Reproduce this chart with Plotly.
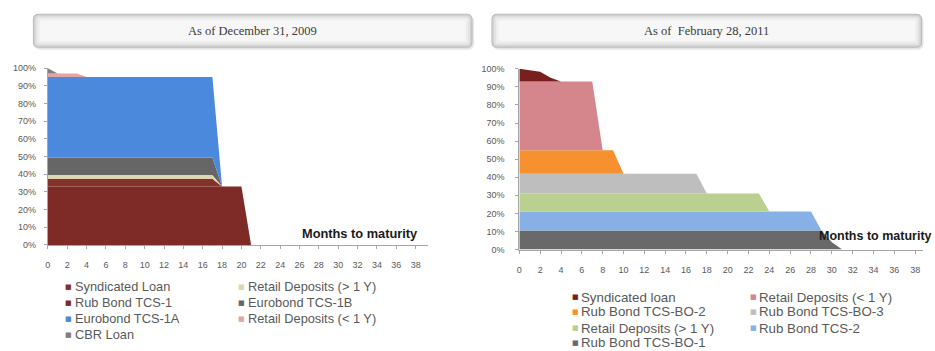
import plotly.graph_objects as go

W, H = 935, 351

# Months to maturity (category axis)
MONTHS = list(range(40))
X_TICKS = [0, 2, 4, 6, 8, 10, 12, 14, 16, 18, 20, 22, 24, 26, 28, 30, 32, 34, 36, 38]
Y_TICKS = [0, 10, 20, 30, 40, 50, 60, 70, 80, 90, 100]
Y_TICK_LABELS = ["0%", "10%", "20%", "30%", "40%", "50%", "60%", "70%", "80%", "90%", "100%"]

# ---- As of December 31, 2009: share of funding outstanding, % (bottom to top of stack)
L_RUB_BOND_TCS1 = [33, 33, 33, 33, 33, 33, 33, 33, 33, 33,
                   33, 33, 33, 33, 33, 33, 33, 33, 33, 33,
                   33, 0]
L_SYNDICATED = [4.5, 4.5, 4.5, 4.5, 4.5, 4.5, 4.5, 4.5, 4.5, 4.5,
                4.5, 4.5, 4.5, 4.5, 4.5, 4.5, 4.5, 4.5, 0]
L_RETAIL_GT1 = [2, 2, 2, 2, 2, 2, 2, 2, 2, 2,
                2, 2, 2, 2, 2, 2, 2, 2, 0]
L_EUROBOND_1B = [10, 10, 10, 10, 10, 10, 10, 10, 10, 10,
                 10, 10, 10, 10, 10, 10, 10, 10, 0]
L_EUROBOND_1A = [45.5, 45.5, 45.5, 45.5, 45.5, 45.5, 45.5, 45.5, 45.5, 45.5,
                 45.5, 45.5, 45.5, 45.5, 45.5, 45.5, 45.5, 45.5, 0]
L_RETAIL_LT1 = [2, 2, 2, 2, 0]
L_CBR = [3, 0]

# ---- As of February 28, 2011 (bottom to top of stack)
R_BO1 = [10.5, 10.5, 10.5, 10.5, 10.5, 10.5, 10.5, 10.5, 10.5, 10.5,
         10.5, 10.5, 10.5, 10.5, 10.5, 10.5, 10.5, 10.5, 10.5, 10.5,
         10.5, 10.5, 10.5, 10.5, 10.5, 10.5, 10.5, 10.5, 10.5, 10.5,
         4, 0]
R_TCS2 = [10.5, 10.5, 10.5, 10.5, 10.5, 10.5, 10.5, 10.5, 10.5, 10.5,
          10.5, 10.5, 10.5, 10.5, 10.5, 10.5, 10.5, 10.5, 10.5, 10.5,
          10.5, 10.5, 10.5, 10.5, 10.5, 10.5, 10.5, 10.5, 10.5, 0]
R_RETAIL_GT1 = [10, 10, 10, 10, 10, 10, 10, 10, 10, 10,
                10, 10, 10, 10, 10, 10, 10, 10, 10, 10,
                10, 10, 10, 10, 0]
R_BO3 = [11, 11, 11, 11, 11, 11, 11, 11, 11, 11,
         11, 11, 11, 11, 11, 11, 11, 11, 0]
R_BO2 = [13, 13, 13, 13, 13, 13, 13, 13, 13, 13, 0]
R_RETAIL_LT1 = [38, 38, 38, 38, 38, 38, 38, 38, 0]
R_SYNDICATED = [7, 6.2, 5.4, 2, 0]

LEFT_SERIES = [
    ("Rub Bond TCS-1", L_RUB_BOND_TCS1, "#7E2B27"),
    ("Syndicated Loan", L_SYNDICATED, "#84302B"),
    ("Retail Deposits (> 1 Y)", L_RETAIL_GT1, "#DDD6B0"),
    ("Eurobond TCS-1B", L_EUROBOND_1B, "#666666"),
    ("Eurobond TCS-1A", L_EUROBOND_1A, "#4A89DC"),
    ("Retail Deposits (< 1 Y)", L_RETAIL_LT1, "#E3A5A4"),
    ("CBR Loan", L_CBR, "#7F7F7F"),
]
RIGHT_SERIES = [
    ("Rub Bond TCS-BO-1", R_BO1, "#696969"),
    ("Rub Bond TCS-2", R_TCS2, "#86B0E6"),
    ("Retail Deposits (> 1 Y)", R_RETAIL_GT1, "#B9D08F"),
    ("Rub Bond TCS-BO-3", R_BO3, "#BEBEBE"),
    ("Rub Bond TCS-BO-2", R_BO2, "#F7912F"),
    ("Retail Deposits (< 1 Y)", R_RETAIL_LT1, "#D4868C"),
    ("Syndicated loan", R_SYNDICATED, "#7A1F20"),
]

LEFT_LEGEND_ROWS = [
    ("Syndicated Loan", "Retail Deposits (> 1 Y)"),
    ("Rub Bond TCS-1", "Eurobond TCS-1B"),
    ("Eurobond TCS-1A", "Retail Deposits (< 1 Y)"),
    ("CBR Loan", None),
]
RIGHT_LEGEND_ROWS = [
    ("Syndicated loan", "Retail Deposits (< 1 Y)"),
    ("Rub Bond TCS-BO-2", "Rub Bond TCS-BO-3"),
    ("Retail Deposits (> 1 Y)", "Rub Bond TCS-2"),
    ("Rub Bond TCS-BO-1", None),
]


def X(px):
    return px / W


def Y(py):
    return 1 - py / H


fig = go.Figure()

for name, vals, color in LEFT_SERIES:
    fig.add_trace(go.Scatter(
        x=MONTHS[:len(vals)], y=vals, name=name, stackgroup="left",
        mode="none", fillcolor=color, xaxis="x", yaxis="y", showlegend=False))

for name, vals, color in RIGHT_SERIES:
    fig.add_trace(go.Scatter(
        x=MONTHS[:len(vals)], y=vals, name=name, stackgroup="right",
        mode="none", fillcolor=color, xaxis="x2", yaxis="y2", showlegend=False))

tick_font = dict(family="Liberation Sans, Arial, sans-serif", size=9, color="#595959")
AX = "#A6A6A6"

# panel geometry (pixels)
L_X0, L_STEP, L_TOP, L_BOT = 45, 9.71, 65, 247
R_X0, R_STEP, R_TOP, R_BOT = 518, 10.45, 65.7, 251.7
L_XMAX, R_XMAX = 39.3, 38.8


def xaxis(x0, step, xmax, anchor, standoff):
    return dict(domain=[X(x0), X(x0 + step * xmax)], range=[0, xmax], anchor=anchor,
                tickmode="array", tickvals=X_TICKS, ticktext=[str(t) for t in X_TICKS],
                showgrid=False, zeroline=False, showline=True, linecolor=AX, linewidth=1,
                ticks="outside", ticklen=3, tickcolor=AX, tickfont=tick_font,
                ticklabelstandoff=standoff, fixedrange=True)


def yaxis(top, bot, anchor, standoff):
    return dict(domain=[Y(bot), Y(top)], range=[0, 100], anchor=anchor,
                tickmode="array", tickvals=Y_TICKS, ticktext=Y_TICK_LABELS,
                showgrid=False, zeroline=False, showline=True, linecolor=AX, linewidth=1,
                ticks="outside", ticklen=3, tickcolor=AX, tickfont=tick_font,
                ticklabelstandoff=standoff, fixedrange=True)


def rrect(x0, y0, x1, y1, r):
    return (f"M {X(x0 + r)},{Y(y0)} L {X(x1 - r)},{Y(y0)} Q {X(x1)},{Y(y0)} {X(x1)},{Y(y0 + r)} "
            f"L {X(x1)},{Y(y1 - r)} Q {X(x1)},{Y(y1)} {X(x1 - r)},{Y(y1)} "
            f"L {X(x0 + r)},{Y(y1)} Q {X(x0)},{Y(y1)} {X(x0)},{Y(y1 - r)} "
            f"L {X(x0)},{Y(y0 + r)} Q {X(x0)},{Y(y0)} {X(x0 + r)},{Y(y0)} Z")


shapes = []
annotations = []

# title banners
for (bx0, bx1, title) in [(30, 471, "As of December 31, 2009"), (490, 922, "As of  February 28, 2011")]:
    by0, by1 = 9, 44
    shapes.append(dict(type="path", path=rrect(bx0 + 1.5, by0 + 2, bx1 + 1.5, by1 + 2, 6),
                       xref="paper", yref="paper", fillcolor="rgba(0,0,0,0.10)", line_width=0))
    for inset, col in [(0, "#BCBCBC"), (1, "#D2D2D2"), (2.5, "#E2E2E2"), (4.5, "#EEEEEE"), (7, "#F7F7F7")]:
        shapes.append(dict(type="path",
                           path=rrect(bx0 + inset, by0 + inset, bx1 - inset, by1 - inset, max(6 - inset, 1)),
                           xref="paper", yref="paper", fillcolor=col, line_width=0))
    annotations.append(dict(text=title, x=X((bx0 + bx1) / 2), y=Y(27), xref="paper", yref="paper",
                            xanchor="center", yanchor="middle", showarrow=False,
                            font=dict(family="Liberation Serif, Times New Roman, serif", size=12.5,
                                      color="#3A3A3A")))

# axis captions
annotations.append(dict(text="<b>Months to maturity</b>", x=X(358), y=Y(235), xref="paper", yref="paper",
                        xanchor="center", yanchor="middle", showarrow=False,
                        font=dict(family="Liberation Sans, Arial, sans-serif", size=12.8, color="#1A1A1A")))
annotations.append(dict(text="<b>Months to maturity</b>", x=X(934), y=Y(238), xref="paper", yref="paper",
                        xanchor="right", yanchor="middle", showarrow=False,
                        font=dict(family="Liberation Sans, Arial, sans-serif", size=12.5, color="#1A1A1A")))


def add_legend(rows, colors, col_marker_x, col_text_x, row_y, size):
    leg_font = dict(family="Liberation Sans, Arial, sans-serif", size=size, color="#595959")
    for r, pair in enumerate(rows):
        for c, name in enumerate(pair):
            if name is None:
                continue
            annotations.append(dict(text="■", x=X(col_marker_x[c]), y=Y(row_y[r]), xref="paper", yref="paper",
                                    xanchor="center", yanchor="middle", showarrow=False,
                                    font=dict(family="DejaVu Sans", size=7, color=colors[name])))
            annotations.append(dict(text=name, x=X(col_text_x[c]), y=Y(row_y[r]), xref="paper", yref="paper",
                                    xanchor="left", yanchor="middle", showarrow=False, font=leg_font))


add_legend(LEFT_LEGEND_ROWS, {n: c for n, _, c in LEFT_SERIES},
           [65.5, 239.5], [70, 244], [290, 306.3, 323, 339.5], 12.8)
add_legend(RIGHT_LEGEND_ROWS, {n: c for n, _, c in RIGHT_SERIES},
           [574, 753], [578, 756], [301, 316, 332.5, 347.5], 13.3)

fig.update_layout(
    width=W, height=H, margin=dict(l=0, r=0, t=0, b=0),
    paper_bgcolor="white", plot_bgcolor="white",
    xaxis=xaxis(L_X0, L_STEP, L_XMAX, "y", 8),
    yaxis=yaxis(L_TOP, L_BOT, "x", 6),
    xaxis2=xaxis(R_X0, R_STEP, R_XMAX, "y2", 9),
    yaxis2=yaxis(R_TOP, R_BOT, "x2", 9),
    shapes=shapes, annotations=annotations, showlegend=False,
)

fig.write_html("out.html")
